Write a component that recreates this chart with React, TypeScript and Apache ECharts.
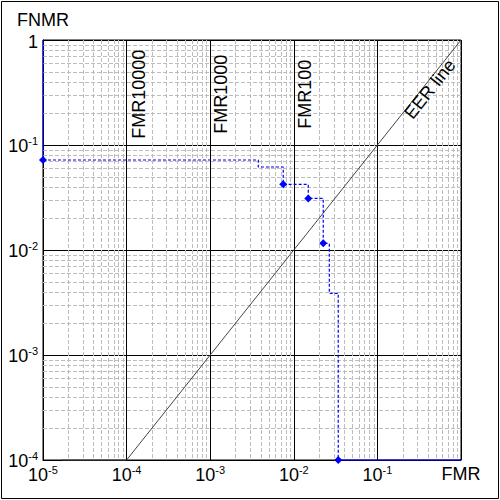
import React, { useEffect, useRef } from 'react';
import * as echarts from 'echarts';

const FONT = '"Liberation Sans", Arial, Helvetica, sans-serif';

// Axis decades (exponents of 10)
const xDecades = [-5, -4, -3, -2, -1, 0];
const yDecades = [-4, -3, -2, -1, 0];
const minorMultipliers = [2, 3, 4, 5, 6, 7, 8, 9];

// DET curve (step, horizontal then vertical)
const detFMR = [1e-5, 0.00376, 0.00748, 0.0149, 0.0225, 0.0266, 0.034];
const detFNMR = [0.072, 0.0617, 0.0422, 0.031, 0.0116, 0.00387, 0.0001];
const detMarked = [true, false, true, true, true, false, true];

// solid edge segments of the DET curve
const leftEdgeFMR = [1e-5, 1e-5];
const leftEdgeFNMR = [1, 0.072];
const bottomEdgeFMR = [0.034, 1];
const bottomEdgeFNMR = [1e-4, 1e-4];

// EER line
const eerFMR = [1.7e-5, 1e-4, 1];
const eerFNMR = [1e-4, 1e-4, 1];

// Annotations
const annotationTexts = ['FMR10000', 'FMR1000', 'FMR100', 'EER line'];
const annotationFMR = [1.41e-4, 1.36e-3, 1.36e-2, 0.425];
const annotationFNMR = [0.305, 0.305, 0.305, 0.341];
const annotationAngle = [90, 90, 90, 51.5];

const rich = {
  b: { fontSize: 18, fontFamily: FONT, color: '#000', lineHeight: 20, verticalAlign: 'bottom' },
  s: { fontSize: 11, fontFamily: FONT, color: '#000', lineHeight: 11, verticalAlign: 'top' },
  one: { fontSize: 18, fontFamily: FONT, color: '#000', lineHeight: 14, padding: [4, 0, 0, 0] },
  unit: { fontSize: 18, fontFamily: FONT, color: '#000', lineHeight: 20 },
};

const expLabel = (v: number, unitText: string, unitStyle: string) => {
  const e = Math.round(Math.log10(v));
  if (e === 0) return `{${unitStyle}|${unitText}}`;
  return `{b|10}{s|${e}}`;
};

export default function App() {
  const ref = useRef<HTMLDivElement>(null);
  useEffect(() => {
    if (!ref.current) return;
    const chart = echarts.init(ref.current, undefined, { renderer: 'svg' });

    // minor grid lines: [fmr, fnmr, orientation] (0 = vertical, 1 = horizontal)
    const minorGrid: number[][] = [];
    xDecades.slice(0, -1).forEach((e) =>
      minorMultipliers.forEach((k) => minorGrid.push([k * Math.pow(10, e), 1, 0]))
    );
    yDecades.slice(0, -1).forEach((e) =>
      minorMultipliers.forEach((k) => minorGrid.push([1, k * Math.pow(10, e), 1]))
    );

    const detData = detFMR.map((x, i) => ({
      value: [x, detFNMR[i]],
      symbol: detMarked[i] ? 'diamond' : 'none',
    }));

    chart.setOption({
      animation: false,
      backgroundColor: '#fff',
      grid: {
        left: 43,
        top: 40,
        width: 418,
        height: 420,
        show: true,
        borderColor: '#000',
        borderWidth: 1,
        backgroundColor: 'transparent',
      },
      xAxis: {
        type: 'log',
        logBase: 10,
        min: 1e-5,
        max: 1,
        splitNumber: 5,
        axisLine: { show: true, lineStyle: { color: '#000', width: 1 } },
        axisTick: { show: false },
        splitLine: { show: true, lineStyle: { color: '#000', width: 1, type: 'solid' } },
        axisLabel: {
          margin: 4,
          formatter: (v: number) => expLabel(v, 'FMR', 'unit'),
          rich,
        },
      },
      yAxis: {
        type: 'log',
        logBase: 10,
        min: 1e-4,
        max: 1,
        splitNumber: 4,
        name: 'FNMR',
        nameLocation: 'end',
        nameGap: 8.5,
        nameTextStyle: { fontSize: 18, fontFamily: FONT, color: '#000', align: 'center', lineHeight: 14 },
        axisLine: { show: true, lineStyle: { color: '#000', width: 1 } },
        axisTick: { show: false },
        splitLine: { show: true, lineStyle: { color: '#000', width: 1, type: 'solid' } },
        axisLabel: {
          margin: 5,
          formatter: (v: number) => expLabel(v, '1', 'one'),
          rich,
        },
      },
      series: [
        {
          type: 'custom',
          name: 'minor grid',
          data: minorGrid,
          encode: { x: 0, y: 1 },
          silent: true,
          z: 1,
          renderItem: (params: any, api: any) => {
            const cs = params.coordSys;
            const orient = api.value(2);
            if (orient === 0) {
              const px = Math.round(api.coord([api.value(0), 1])[0]) + 0.5;
              return {
                type: 'line',
                shape: { x1: px, y1: cs.y, x2: px, y2: cs.y + cs.height },
                style: { stroke: '#bdbdbd', lineWidth: 1, lineDash: [4, 2] },
              };
            }
            const py = Math.round(api.coord([1, api.value(1)])[1]) + 0.5;
            return {
              type: 'line',
              shape: { x1: cs.x, y1: py, x2: cs.x + cs.width, y2: py },
              style: { stroke: '#bdbdbd', lineWidth: 1, lineDash: [4, 2] },
            };
          },
        },
        {
          type: 'line',
          name: 'EER',
          data: eerFMR.map((x, i) => [x, eerFNMR[i]]),
          symbol: 'none',
          clip: false,
          z: 3,
          lineStyle: { color: '#444', width: 1 },
        },
        {
          type: 'line',
          data: leftEdgeFMR.map((x, i) => [x, leftEdgeFNMR[i]]),
          symbol: 'none',
          clip: false,
          z: 4,
          lineStyle: { color: '#0000ff', width: 1 },
        },
        {
          type: 'line',
          data: bottomEdgeFMR.map((x, i) => [x, bottomEdgeFNMR[i]]),
          symbol: 'none',
          clip: false,
          z: 4,
          lineStyle: { color: '#0000ff', width: 1 },
        },
        {
          type: 'line',
          name: 'DET',
          step: 'end',
          data: detData,
          symbol: 'diamond',
          symbolSize: 8,
          showAllSymbol: true,
          clip: false,
          z: 5,
          itemStyle: { color: '#0000ff' },
          lineStyle: { color: '#0000ff', type: [3, 2], width: 1.2 },
        },
      ],
    });

    const texts = annotationTexts.map((t, i) => {
      const p = chart.convertToPixel({ gridIndex: 0 }, [annotationFMR[i], annotationFNMR[i]]) as number[];
      return {
        type: 'text',
        x: p[0],
        y: p[1],
        rotation: (annotationAngle[i] * Math.PI) / 180,
        z: 10,
        style: {
          text: t,
          fontSize: 18,
          fontFamily: FONT,
          fill: '#000',
          align: 'center',
          verticalAlign: 'middle',
          textAlign: 'center',
          textVerticalAlign: 'middle',
        },
      };
    });

    chart.setOption({
      graphic: [
        {
          type: 'rect',
          shape: { x: 1.5, y: 1.5, width: 497, height: 497 },
          style: { fill: 'none', stroke: '#000', lineWidth: 1 },
          z: 10,
          silent: true,
        },
        ...texts,
      ],
    });

    return () => chart.dispose();
  }, []);

  return (
    <div
      ref={ref}
      style={{ position: 'absolute', left: 0, top: 0, width: 500, height: 500, background: '#fff' }}
    />
  );
}
